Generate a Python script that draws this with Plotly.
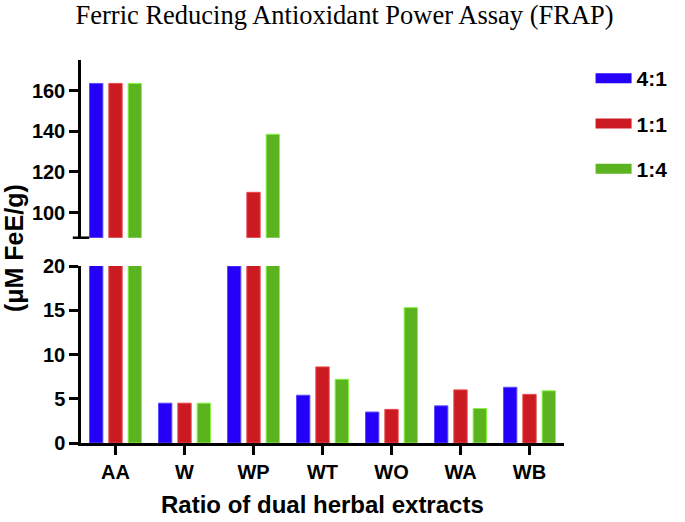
import plotly.graph_objs as go
from plotly.subplots import make_subplots

# Values
extracts = ['AA', 'W', 'WP', 'WT', 'WO', 'WA', 'WB']
ratio_4_1 = [163.5, 4.5, 20.0, 5.4, 3.5, 4.2, 6.3]
ratio_1_1 = [163.5, 4.5, 110.0, 8.6, 3.8, 6.0, 5.5]
ratio_1_4 = [163.5, 4.5, 138.5, 7.2, 15.3, 3.9, 5.9]

series = [('4:1', ratio_4_1, '#2400f8', '#5a4cff'),
          ('1:1', ratio_1_1, '#cc1a22', '#e8484c'),
          ('1:4', ratio_1_4, '#5bb31f', '#86f542')]

fig = make_subplots(rows=2, cols=1, shared_xaxes=True)

# Same bars in both panels, the broken axis clips them
for row in (1, 2):
    for name, vals, color, edge in series:
        fig.add_trace(go.Bar(x=extracts, y=vals, name=name,
                             marker=dict(color=color, line=dict(color=edge, width=1)),
                             showlegend=False, legendgroup=name),
                      row=row, col=1)

# legend entries with wide rectangular swatches
for name, vals, color, edge in series:
    fig.add_trace(go.Scatter(x=[None], y=[None], mode='lines', name=name,
                             line=dict(color=color, width=12),
                             legendgroup=name, showlegend=True),
                  row=2, col=1)

tick_font = dict(family='Liberation Sans', size=20, color='black', weight='bold')

fig.update_layout(
    width=685, height=522,
    plot_bgcolor='white', paper_bgcolor='white',
    margin=dict(l=81, r=121, t=60, b=79),
    barmode='group', bargap=0.16, bargroupgap=0.31,
    title=dict(text='Ferric Reducing Antioxidant Power Assay (FRAP)',
               font=dict(family='Liberation Serif', size=26.5, color='black'),
               x=0.503, xanchor='center', xref='container',
               y=0.972, yanchor='middle', yref='container'),
    legend=dict(x=1.055, y=1.005, xanchor='left', yanchor='top',
                font=dict(family='Liberation Sans', size=21, color='black', weight='bold'),
                tracegroupgap=15, itemwidth=36),
    font=dict(family='Liberation Sans', color='black'),
)

# upper panel (above the break)
fig.update_yaxes(row=1, col=1, domain=[0.536, 1.0], range=[87.7, 175],
                 tickvals=[100, 120, 140, 160], showgrid=False, zeroline=False,
                 showline=True, linecolor='black', linewidth=2.5,
                 ticks='outside', ticklen=9, tickwidth=2.5, tickcolor='black',
                 tickfont=tick_font)
fig.update_xaxes(row=1, col=1, visible=False, range=[-0.5, 6.5])

# lower panel
fig.update_yaxes(row=2, col=1, domain=[0.0, 0.462], range=[0, 20],
                 tickvals=[0, 5, 10, 15, 20], showgrid=False, zeroline=False,
                 showline=True, linecolor='black', linewidth=2.5,
                 ticks='outside', ticklen=9, tickwidth=2.5, tickcolor='black',
                 tickfont=tick_font)
fig.update_xaxes(row=2, col=1, range=[-0.5, 6.5], showgrid=False,
                 showline=True, linecolor='black', linewidth=2.5,
                 ticks='outside', ticklen=9, tickwidth=2.5, tickcolor='black',
                 tickfont=tick_font, ticklabelstandoff=0)

# break mark at the bottom of the upper axis
fig.add_shape(type='line', xref='paper', yref='paper',
              x0=-0.017, x1=0.017, y0=0.536, y1=0.536,
              line=dict(color='black', width=2.5))

# axis titles
fig.add_annotation(text='(\u03bcM FeE/g)', textangle=-90,
                   xref='paper', yref='paper', x=-0.14, y=0.51,
                   xanchor='center', yanchor='middle', showarrow=False,
                   font=dict(family='Liberation Sans', size=25, color='black', weight='bold'))
fig.add_annotation(text='Ratio of dual herbal extracts',
                   xref='paper', yref='paper', x=0.5, y=-0.16,
                   xanchor='center', yanchor='middle', showarrow=False,
                   font=dict(family='Liberation Sans', size=24, color='black', weight='bold'))

fig.write_html('out.html', config={'displayModeBar': False},
               post_script="document.body.style.margin='0';")
